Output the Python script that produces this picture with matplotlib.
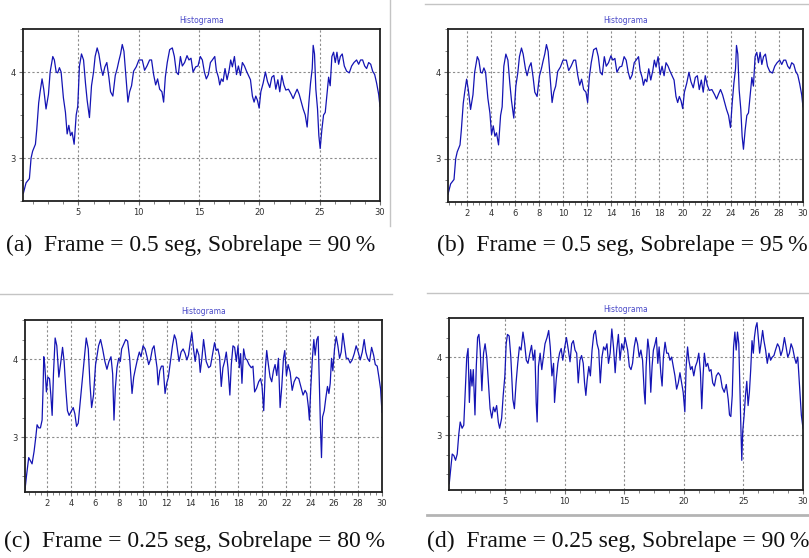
import numpy as np
import matplotlib
matplotlib.use('Agg')
import matplotlib.pyplot as plt
from matplotlib.lines import Line2D

W, H = 809, 558

trace_a = [(0.43, 2.59), (0.65, 2.71), (0.93, 2.76), (1.07, 3.0), (1.2, 3.08), (1.43, 3.16),
           (1.54, 3.33), (1.7, 3.64), (1.82, 3.77), (1.98, 3.92), (2.12, 3.80), (2.31, 3.57),
           (2.51, 3.74), (2.65, 4.0), (2.87, 4.18), (3.0, 4.14), (3.15, 4.0), (3.28, 3.99),
           (3.42, 4.05), (3.56, 4.0), (3.75, 3.70), (3.92, 3.53), (4.06, 3.28), (4.2, 3.38),
           (4.34, 3.26), (4.47, 3.3), (4.64, 3.16), (4.81, 3.5), (4.94, 3.6), (5.08, 4.07),
           (5.25, 4.21), (5.42, 4.14), (5.58, 3.87), (5.72, 3.67), (5.91, 3.47), (6.08, 3.84),
           (6.25, 4.0), (6.38, 4.18), (6.55, 4.28), (6.69, 4.21), (6.88, 4.04), (7.02, 3.96),
           (7.19, 4.06), (7.35, 4.11), (7.52, 3.94), (7.66, 3.77), (7.85, 3.72), (8.05, 3.96),
           (8.21, 4.04), (8.35, 4.13), (8.49, 4.21), (8.63, 4.32), (8.77, 4.24), (8.9, 4.01),
           (9.1, 3.65), (9.24, 3.77), (9.4, 3.84), (9.57, 4.01), (9.79, 4.06), (10.01, 4.14),
           (10.29, 4.14), (10.48, 4.02), (10.68, 4.07), (10.9, 4.14), (11.06, 4.14), (11.23, 3.97),
           (11.4, 3.85), (11.56, 3.92), (11.73, 3.80), (11.92, 3.77), (12.06, 3.65), (12.2, 3.94),
           (12.36, 4.11), (12.56, 4.26), (12.78, 4.28), (12.95, 4.18), (13.11, 4.0), (13.28, 3.97),
           (13.45, 4.18), (13.61, 4.07), (13.8, 4.11), (14.0, 4.19), (14.16, 4.14), (14.33, 4.16),
           (14.5, 4.0), (14.72, 4.06), (14.91, 4.07), (15.1, 4.18), (15.27, 4.14), (15.44, 4.0),
           (15.6, 3.92), (15.77, 3.97), (15.94, 4.11), (16.1, 4.14), (16.3, 4.18), (16.43, 4.02),
           (16.6, 3.94), (16.71, 3.85), (16.85, 3.92), (16.99, 3.89), (17.15, 4.04), (17.32, 3.91),
           (17.49, 4.02), (17.62, 4.14), (17.76, 4.06), (17.93, 4.18), (18.1, 3.97), (18.26, 4.07),
           (18.43, 3.96), (18.59, 4.11), (18.76, 4.07), (18.93, 4.01), (19.09, 3.96), (19.26, 3.91),
           (19.42, 3.72), (19.56, 3.65), (19.7, 3.72), (19.84, 3.67), (19.98, 3.58), (20.12, 3.77),
           (20.31, 3.87), (20.5, 4.0), (20.67, 3.89), (20.86, 3.82), (21.03, 3.94), (21.2, 3.96),
           (21.36, 3.80), (21.53, 3.91), (21.69, 3.77), (21.86, 3.96), (22.03, 3.85), (22.19, 3.79),
           (22.41, 3.80), (22.64, 3.74), (22.8, 3.69), (22.97, 3.75), (23.13, 3.80), (23.3, 3.74),
           (23.47, 3.65), (23.63, 3.57), (23.8, 3.5), (23.96, 3.36), (24.1, 3.64), (24.24, 3.87),
           (24.38, 4.04), (24.46, 4.31), (24.57, 4.21), (24.68, 3.80), (24.82, 3.57), (24.93, 3.26),
           (25.04, 3.11), (25.18, 3.33), (25.32, 3.5), (25.46, 3.53), (25.6, 3.74), (25.74, 3.94),
           (25.87, 3.84), (26.01, 4.18), (26.15, 4.23), (26.29, 4.11), (26.43, 4.23), (26.57, 4.09),
           (26.71, 4.18), (26.87, 4.21), (27.04, 4.07), (27.23, 4.01), (27.45, 3.99), (27.65, 4.07),
           (27.84, 4.11), (28.06, 4.14), (28.23, 4.09), (28.39, 4.14), (28.56, 4.14), (28.73, 4.07),
           (28.89, 4.04), (29.06, 4.11), (29.23, 4.09), (29.39, 4.01), (29.56, 3.97), (29.72, 3.87),
           (29.89, 3.74), (30.0, 3.6)]

# con 95 % de sobrelape la curva se ve igual que con 90 %
trace_b = trace_a

trace_c = [(0.15, 2.33), (0.27, 2.50), (0.46, 2.74), (0.6, 2.70), (0.74, 2.66), (0.91, 2.82),
           (1.05, 3.0), (1.16, 3.16), (1.3, 3.12), (1.44, 3.12), (1.58, 3.22), (1.66, 3.62),
           (1.72, 4.03), (1.8, 3.93), (1.94, 3.58), (2.06, 3.77), (2.2, 3.75), (2.31, 3.54),
           (2.42, 3.28), (2.53, 3.81), (2.67, 4.27), (2.81, 4.17), (2.98, 3.77), (3.15, 3.97),
           (3.29, 4.15), (3.42, 3.97), (3.56, 3.62), (3.7, 3.34), (3.84, 3.28), (4.04, 3.34),
           (4.18, 3.38), (4.32, 3.30), (4.46, 3.14), (4.6, 3.18), (4.77, 3.46), (4.93, 3.73),
           (5.1, 4.01), (5.27, 4.27), (5.44, 4.13), (5.58, 3.69), (5.72, 3.38), (5.88, 3.54),
           (6.05, 3.93), (6.16, 4.03), (6.3, 4.17), (6.47, 4.25), (6.64, 4.13), (6.83, 3.97),
           (7.0, 3.87), (7.17, 3.97), (7.34, 4.03), (7.48, 3.81), (7.59, 3.22), (7.7, 3.62),
           (7.84, 3.89), (7.98, 4.01), (8.12, 3.97), (8.23, 4.13), (8.4, 4.19), (8.57, 4.25),
           (8.73, 4.23), (8.9, 4.01), (9.1, 3.56), (9.24, 3.77), (9.4, 3.89), (9.57, 4.01),
           (9.71, 4.09), (9.85, 4.03), (10.02, 4.17), (10.19, 4.13), (10.35, 4.03), (10.49, 3.93),
           (10.63, 3.99), (10.8, 4.13), (10.94, 4.17), (11.08, 4.01), (11.19, 3.89), (11.28, 3.67),
           (11.42, 3.85), (11.56, 3.91), (11.7, 3.91), (11.86, 3.56), (12.0, 3.69), (12.14, 3.77),
           (12.31, 3.97), (12.48, 4.17), (12.64, 4.31), (12.78, 4.25), (12.92, 4.09), (13.03, 3.97),
           (13.2, 4.09), (13.37, 4.13), (13.54, 4.07), (13.68, 3.99), (13.82, 4.05), (13.96, 4.21),
           (14.1, 4.34), (14.24, 4.13), (14.38, 3.97), (14.52, 4.13), (14.69, 4.05), (14.8, 3.83),
           (14.94, 4.01), (15.08, 4.25), (15.18, 4.13), (15.3, 3.97), (15.5, 3.89), (15.66, 3.91),
           (15.86, 4.09), (16.0, 4.21), (16.14, 4.11), (16.28, 4.13), (16.42, 4.03), (16.56, 3.65),
           (16.7, 3.89), (16.84, 3.97), (16.98, 4.09), (17.12, 3.89), (17.28, 3.54), (17.4, 3.93),
           (17.54, 4.17), (17.68, 4.15), (17.82, 3.97), (17.96, 4.17), (18.07, 3.89), (18.18, 4.07),
           (18.29, 3.69), (18.43, 4.13), (18.57, 4.01), (18.71, 3.99), (18.88, 3.93), (19.07, 3.89),
           (19.21, 3.91), (19.35, 3.58), (19.52, 3.63), (19.69, 3.71), (19.85, 3.75), (19.97, 3.65),
           (20.11, 3.34), (20.25, 3.89), (20.36, 4.11), (20.5, 3.93), (20.64, 3.77), (20.78, 3.71),
           (20.92, 3.85), (21.06, 3.93), (21.2, 3.79), (21.34, 4.01), (21.48, 3.38), (21.62, 3.65),
           (21.76, 4.01), (21.87, 4.11), (22.01, 3.79), (22.15, 3.93), (22.32, 3.83), (22.49, 3.60),
           (22.65, 3.71), (22.84, 3.77), (23.04, 3.75), (23.21, 3.65), (23.4, 3.54), (23.57, 3.60),
           (23.71, 3.56), (23.85, 3.38), (23.93, 3.22), (24.04, 3.62), (24.18, 4.01), (24.3, 4.25),
           (24.41, 4.05), (24.55, 4.25), (24.66, 4.29), (24.77, 3.62), (24.86, 3.10), (24.94, 2.74),
           (25.03, 3.26), (25.17, 3.34), (25.3, 3.50), (25.44, 3.65), (25.56, 3.56), (25.67, 3.69),
           (25.78, 4.01), (25.89, 3.85), (26.03, 4.13), (26.17, 4.29), (26.31, 4.17), (26.45, 4.01),
           (26.59, 4.09), (26.73, 4.33), (26.87, 4.17), (27.01, 4.01), (27.17, 4.01), (27.34, 3.95),
           (27.51, 3.99), (27.68, 4.07), (27.84, 4.17), (28.01, 4.09), (28.18, 3.99), (28.35, 4.09),
           (28.51, 4.25), (28.65, 4.09), (28.79, 4.01), (28.96, 3.97), (29.13, 4.15), (29.3, 4.05),
           (29.44, 3.93), (29.6, 3.91), (29.74, 3.77), (29.88, 3.62), (30.0, 3.32)]

trace_d = [(0.3, 2.38), (0.41, 2.55), (0.55, 2.76), (0.69, 2.74), (0.83, 2.68), (0.97, 2.76),
           (1.1, 3.01), (1.22, 3.17), (1.38, 3.09), (1.52, 3.13), (1.66, 3.61), (1.77, 4.0),
           (1.88, 4.11), (1.99, 3.42), (2.1, 3.84), (2.21, 3.63), (2.32, 3.84), (2.46, 3.26),
           (2.57, 3.88), (2.68, 4.25), (2.79, 4.29), (2.9, 4.09), (3.04, 3.57), (3.18, 4.05),
           (3.31, 4.17), (3.45, 4.0), (3.59, 3.67), (3.73, 3.34), (3.87, 3.22), (4.01, 3.36),
           (4.14, 3.30), (4.28, 3.38), (4.42, 3.17), (4.53, 3.09), (4.7, 3.22), (4.83, 3.51),
           (4.97, 3.76), (5.08, 4.17), (5.19, 4.29), (5.33, 4.27), (5.47, 4.0), (5.64, 3.46),
           (5.77, 3.34), (5.91, 3.67), (6.05, 3.92), (6.19, 4.13), (6.33, 4.09), (6.49, 4.32),
           (6.63, 4.17), (6.77, 3.96), (6.91, 3.92), (7.07, 4.05), (7.21, 4.15), (7.35, 3.96),
           (7.49, 4.09), (7.6, 3.42), (7.68, 3.17), (7.79, 3.88), (7.93, 4.05), (8.07, 3.84),
           (8.2, 4.0), (8.34, 4.17), (8.51, 4.25), (8.65, 4.34), (8.78, 4.13), (8.92, 3.76),
           (9.06, 3.92), (9.14, 3.42), (9.28, 3.71), (9.42, 3.92), (9.56, 4.05), (9.7, 4.11),
           (9.83, 3.96), (10.0, 4.13), (10.14, 4.25), (10.3, 4.09), (10.44, 3.94), (10.58, 4.17),
           (10.72, 4.21), (10.86, 4.09), (11.0, 4.05), (11.13, 3.67), (11.27, 3.96), (11.41, 4.02),
           (11.55, 3.92), (11.66, 3.67), (11.77, 3.51), (11.88, 3.71), (12.02, 3.88), (12.15, 3.76),
           (12.29, 4.09), (12.43, 4.29), (12.57, 4.34), (12.71, 4.17), (12.85, 4.09), (12.98, 3.67),
           (13.12, 4.0), (13.26, 4.13), (13.4, 4.09), (13.54, 4.17), (13.67, 3.92), (13.81, 4.05),
           (13.95, 4.36), (14.09, 4.13), (14.23, 3.80), (14.36, 4.09), (14.5, 4.29), (14.64, 3.96),
           (14.78, 4.17), (14.92, 4.09), (15.06, 4.25), (15.28, 4.09), (15.42, 3.88), (15.56, 3.84),
           (15.69, 3.92), (15.83, 4.13), (15.97, 4.25), (16.11, 4.17), (16.25, 4.0), (16.39, 4.09),
           (16.53, 3.96), (16.67, 3.55), (16.75, 3.40), (16.83, 3.88), (16.97, 4.23), (17.08, 4.09),
           (17.22, 3.55), (17.33, 3.88), (17.44, 4.09), (17.58, 4.17), (17.69, 4.25), (17.81, 3.92),
           (17.92, 4.13), (18.06, 3.80), (18.17, 3.63), (18.28, 4.0), (18.42, 4.19), (18.56, 4.05),
           (18.69, 4.05), (18.83, 3.96), (18.97, 4.0), (19.11, 3.88), (19.25, 3.76), (19.39, 3.59),
           (19.53, 3.67), (19.67, 3.80), (19.81, 3.67), (19.94, 3.55), (20.08, 3.30), (20.19, 3.88),
           (20.31, 4.13), (20.42, 3.96), (20.56, 3.84), (20.69, 3.88), (20.83, 3.76), (20.97, 3.88),
           (21.11, 3.94), (21.25, 4.05), (21.39, 3.80), (21.5, 3.34), (21.61, 3.76), (21.72, 4.05),
           (21.86, 3.88), (22.0, 3.92), (22.14, 3.82), (22.28, 3.84), (22.42, 3.67), (22.56, 3.63),
           (22.72, 3.76), (22.89, 3.80), (23.06, 3.76), (23.22, 3.61), (23.39, 3.55), (23.56, 3.65),
           (23.72, 3.46), (23.83, 3.26), (23.94, 3.24), (24.06, 3.51), (24.17, 4.13), (24.28, 4.32),
           (24.39, 4.09), (24.5, 4.32), (24.61, 4.17), (24.69, 3.67), (24.78, 3.13), (24.86, 2.68),
           (24.94, 3.05), (25.06, 3.26), (25.17, 3.51), (25.28, 3.69), (25.39, 3.38), (25.5, 3.55),
           (25.61, 3.84), (25.72, 4.21), (25.83, 4.05), (25.92, 4.25), (26.03, 4.38), (26.14, 4.44),
           (26.25, 4.25), (26.36, 4.05), (26.47, 4.17), (26.61, 4.34), (26.72, 4.21), (26.86, 4.09),
           (27.0, 3.92), (27.14, 4.05), (27.28, 3.96), (27.42, 4.0), (27.56, 4.02), (27.69, 4.09),
           (27.86, 4.17), (28.0, 4.13), (28.14, 4.02), (28.28, 4.09), (28.44, 4.25), (28.58, 4.13),
           (28.72, 4.0), (28.86, 4.05), (29.0, 4.17), (29.14, 4.11), (29.28, 4.0), (29.42, 3.92),
           (29.56, 4.0), (29.69, 3.67), (29.86, 3.26), (30.0, 3.09)]

captions = ['(a)  Frame = 0.5 seg, Sobrelape = 90\u2009%',
            '(b)  Frame = 0.5 seg, Sobrelape = 95\u2009%',
            '(c)  Frame = 0.25 seg, Sobrelape = 80\u2009%',
            '(d)  Frame = 0.25 seg, Sobrelape = 90\u2009%']

fig = plt.figure(figsize=(W / 100, H / 100), dpi=100)
fig.patch.set_facecolor('white')


def px_axes(left, top, right, bottom):
    # posicion en pixeles de la imagen -> fracciones de figura
    return fig.add_axes([left / W, 1 - bottom / H, (right - left) / W, (bottom - top) / H])


def draw_panel(ax, trace, xlim, ylim, major):
    t, y = zip(*trace)
    ax.plot(t, y, color='#1414b4', lw=0.9)
    ax.set_xlim(*xlim)
    ax.set_ylim(*ylim)
    ax.set_xticks(np.arange(major, 30.01, major))
    ax.set_xticks(np.arange(major / 4, 30.01, major / 4), minor=True)
    ax.set_yticks([3, 4])
    ax.set_yticks(np.arange(2.5, 4.51, 0.25), minor=True)
    ax.grid(True, which='major', linestyle=(0, (2, 2)), color='#8c8c8c', lw=0.8)
    ax.tick_params(which='both', direction='out', color='#707070', labelsize=6,
                   labelcolor='#303030', pad=2)
    ax.tick_params(which='major', length=3)
    ax.tick_params(which='minor', length=2)
    for s in ax.spines.values():
        s.set_color('#202020')
        s.set_linewidth(1.3)
    ax.set_title('Histograma', fontsize=5.5, color='#4a4ac8', pad=4)


ax_a = px_axes(23, 29, 380, 201)
draw_panel(ax_a, trace_a, (0.4, 30), (2.57, 4.33), 5)
ax_b = px_axes(448, 29, 803, 202)
draw_panel(ax_b, trace_b, (0.43, 30), (2.57, 4.31), 2)
ax_c = px_axes(25, 320, 382, 492)
draw_panel(ax_c, trace_c, (0.15, 30), (2.30, 4.35), 2)
ax_d = px_axes(449, 318, 803, 490)
draw_panel(ax_d, trace_d, (0.28, 30), (2.30, 4.44), 5)

# bordes de las capturas de pantalla
sep = dict(color='#c4c4c4', lw=1.0, transform=fig.transFigure)
fig.add_artist(Line2D([390 / W, 390 / W], [1, 1 - 226 / H], **sep))
fig.add_artist(Line2D([425 / W, 1], [1 - 4 / H, 1 - 4 / H], **sep))
fig.add_artist(Line2D([0, 392 / W], [1 - 294 / H, 1 - 294 / H], **sep))
fig.add_artist(Line2D([427 / W, 1], [1 - 293 / H, 1 - 293 / H], **sep))
fig.add_artist(Line2D([427 / W, 1], [1 - 515 / H, 1 - 515 / H], color='#b4b4b4', lw=2.0,
                      transform=fig.transFigure))

cap_font = dict(family=['Liberation Serif', 'DejaVu Serif'], fontsize=17, ha='center',
                va='center', color='#111111')
for (cx, cy), txt in zip([(191, 245), (622, 245), (195, 541), (618, 541)], captions):
    fig.text(cx / W, 1 - cy / H, txt, **cap_font)

fig.savefig('out.png', dpi=100, facecolor='white')
